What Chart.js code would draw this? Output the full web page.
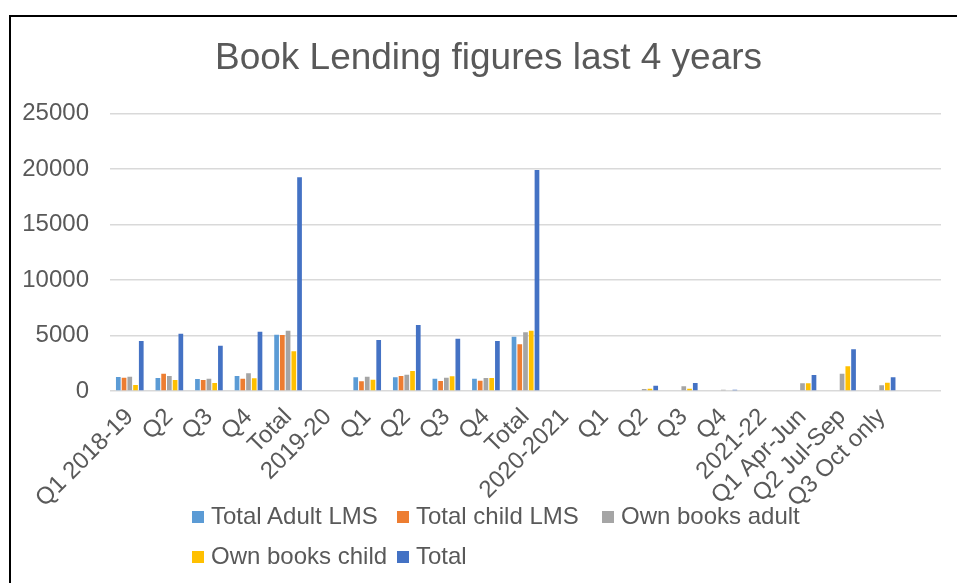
<!DOCTYPE html>
<html>
<head>
  <title>Book Lending</title>
  <style>
    body {
      margin: 0;
      font-family: 'Liberation Sans', Arial, sans-serif;
      overflow: hidden;
      background: #fff;
    }
    #wrap {
      position: relative;
      width: 957px;
      height: 583px;
    }
    #frame {
      position: absolute;
      left: 9px;
      top: 15px;
      width: 2000px;
      height: 2000px;
      border-top: 2px solid #000;
      border-left: 2px solid #000;
      pointer-events: none;
    }
    #legend {
      position: absolute;
      left: 192px;
      top: 502px;
      display: grid;
      grid-template-columns: 205px 205px 205px;
      row-gap: 12px;
      font-size: 24px;
      color: #595959;
      line-height: 28px;
    }
    #legend span.box {
      display: inline-block;
      width: 12px;
      height: 12px;
      margin-right: 7px;
      vertical-align: 1px;
    }
  </style>
</head>
<body>
  <div id="wrap">
    <canvas id="chartContainer" width="957" height="583"></canvas>
    <div id="legend"></div>
    <div id="frame"></div>
  </div>

  <script src="https://cdn.jsdelivr.net/npm/chart.js@4/dist/chart.umd.min.js"></script>

  <script>
    const categories = ['Q1 2018-19', 'Q2', 'Q3', 'Q4', 'Total', '2019-20', 'Q1', 'Q2', 'Q3', 'Q4', 'Total',
      '2020-2021', 'Q1', 'Q2', 'Q3', 'Q4', '2021-22', 'Q1 Apr-Jun', 'Q2 Jul-Sep', 'Q3 Oct only', ''];

    const totalAdultLms = [1260, 1170, 1080, 1350, 5070, null, 1230, 1230, 1110, 1110, 4890,
      null, 0, 0, 0, 0, null, null, null, null, null];
    const totalChildLms = [1200, 1560, 990, 1110, 5040, null, 870, 1350, 900, 930, 4200,
      null, 0, 0, 0, 0, null, null, null, null, null];
    const ownBooksAdult = [1290, 1350, 1110, 1590, 5430, null, 1290, 1470, 1200, 1170, 5280,
      null, 0, 180, 420, 120, null, 690, 1560, 510, null];
    const ownBooksChild = [540, 990, 720, 1140, 3570, null, 1020, 1800, 1320, 1170, 5430,
      null, 0, 210, 210, 0, null, 690, 2220, 750, null];
    const totalLending = [4500, 5160, 4080, 5340, 19260, null, 4590, 5940, 4710, 4500, 19900,
      null, 0, 480, 720, 120, null, 1440, 3750, 1230, null];

    const yTicks = [0, 5000, 10000, 15000, 20000, 25000];

    const textColor = '#595959';
    const fontFamily = "'Liberation Sans', Arial, sans-serif";

    function series(label, data, color) {
      return {
        label: label,
        data: data,
        backgroundColor: color,
        borderWidth: 0,
        barPercentage: 0.82,
        categoryPercentage: 0.725,
        yAxisID: 'y'
      };
    }

    const datasets = [
      series('Total Adult LMS', totalAdultLms, '#5B9BD5'),
      series('Total child LMS', totalChildLms, '#ED7D31'),
      series('Own books adult', ownBooksAdult, '#A5A5A5'),
      series('Own books child', ownBooksChild, '#FFC000'),
      series('Total', totalLending, '#4472C4')
    ];

    const ctx = document.getElementById('chartContainer').getContext('2d');

    const myChart = new Chart(ctx, {
      type: 'bar',
      data: {
        labels: categories,
        datasets: datasets
      },
      options: {
        responsive: false,
        animation: false,
        layout: {
          padding: { left: 20, right: 0, top: 0, bottom: 0 }
        },
        plugins: {
          legend: { display: false },
          tooltip: { enabled: false },
          title: {
            display: true,
            text: 'Book Lending figures last 4 years',
            color: textColor,
            font: { family: fontFamily, size: 37, weight: 'normal' },
            padding: { top: 37, bottom: 32 }
          }
        },
        scales: {
          x: {
            grid: { display: false },
            border: { display: false },
            ticks: {
              autoSkip: false,
              minRotation: 45,
              maxRotation: 45,
              padding: 4,
              color: textColor,
              font: { family: fontFamily, size: 24 }
            },
            afterFit: scale => { scale.height = 192; }
          },
          y: {
            min: 0,
            max: 25000,
            border: { display: false },
            grid: { color: '#D9D9D9', lineWidth: 1.5, drawTicks: false },
            afterBuildTicks: scale => {
              scale.ticks = yTicks.map(v => ({ value: v }));
            },
            ticks: {
              padding: 21,
              color: textColor,
              font: { family: fontFamily, size: 24 },
              callback: value => String(value)
            },
            afterFit: scale => { scale.width = 90; }
          },
          // empty axis on the right, only keeps the plot off the edge
          yRight: {
            position: 'right',
            min: 0,
            max: 25000,
            grid: { display: false },
            border: { display: false },
            ticks: { display: false },
            afterFit: scale => { scale.width = 16; }
          }
        }
      }
    });

    // legend in three columns like the original
    const legendEl = document.getElementById('legend');
    myChart.data.datasets.forEach(ds => {
      const item = document.createElement('div');
      item.innerHTML = '<span class="box" style="background:' + ds.backgroundColor + '"></span>' + ds.label;
      legendEl.appendChild(item);
    });
  </script>
</body>
</html>
